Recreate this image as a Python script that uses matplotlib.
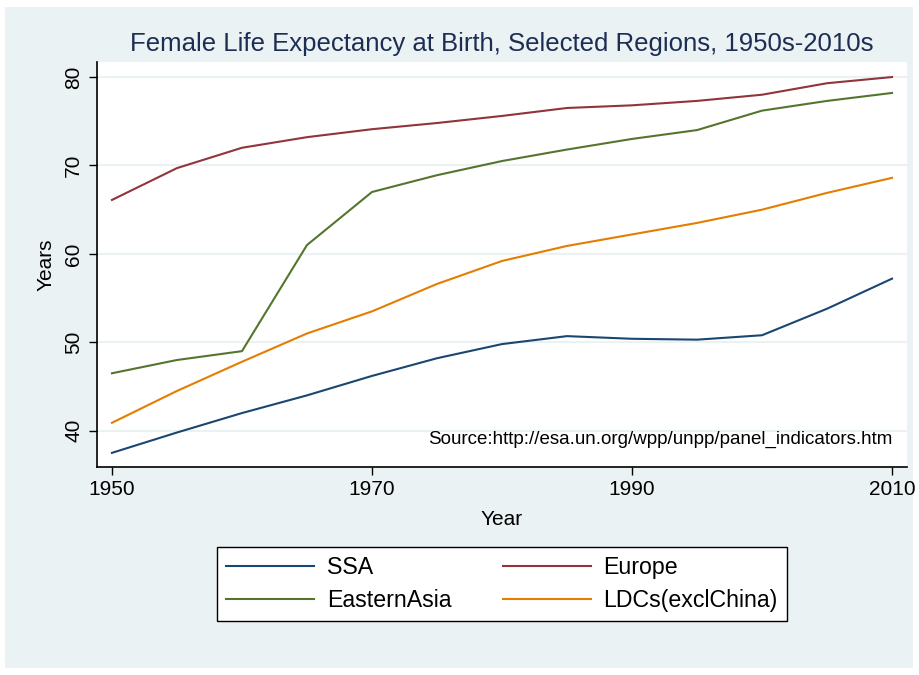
import numpy as np
import matplotlib
matplotlib.use("Agg")
import matplotlib.pyplot as plt
from matplotlib.patches import Rectangle

plt.rcParams['font.family'] = ['Liberation Sans', 'DejaVu Sans']

# data
years = [1950, 1955, 1960, 1965, 1970, 1975, 1980, 1985, 1990, 1995, 2000, 2005, 2010]
ssa = [37.5, 39.8, 42.0, 44.0, 46.2, 48.2, 49.8, 50.7, 50.4, 50.3, 50.8, 53.8, 57.2]
europe = [66.1, 69.7, 72.0, 73.2, 74.1, 74.8, 75.6, 76.5, 76.8, 77.3, 78.0, 79.3, 80.0]
east_asia = [46.5, 48.0, 49.0, 61.0, 67.0, 68.9, 70.5, 71.8, 73.0, 74.0, 76.2, 77.3, 78.2]
ldcs = [40.9, 44.5, 47.8, 51.0, 53.5, 56.6, 59.2, 60.9, 62.2, 63.5, 65.0, 66.9, 68.6]

xticks = [1950, 1970, 1990, 2010]
yticks = [40, 50, 60, 70, 80]

bg = '#eaf2f3'

fig = plt.figure(figsize=(9.2, 6.75), dpi=100)
fig.patch.set_facecolor('white')
fig.patches.append(Rectangle((5/920, 7/675), 908/920, 661/675, transform=fig.transFigure,
                             facecolor=bg, edgecolor='none', zorder=-10))

ax = fig.add_axes([97/920, 1-467/675, 810/920, 405/675])
ax.set_zorder(1)
ax.set_facecolor('white')

ax.plot(years, ssa, color='#1a476f', lw=1.5, label='SSA')
ax.plot(years, europe, color='#90353b', lw=1.5, label='Europe')
ax.plot(years, east_asia, color='#55752f', lw=1.5, label='EasternAsia')
ax.plot(years, ldcs, color='#e37e00', lw=1.5, label='LDCs(exclChina)')

ax.set_xlim(1948.85, 2011.15)
ax.set_ylim(35.9, 81.7)
ax.set_xticks(xticks)
ax.set_yticks(yticks)
ax.set_yticklabels([str(v) for v in yticks], rotation=90, va='center')
ax.tick_params(axis='both', direction='out', length=6, width=1, labelsize=15, color='black')
ax.tick_params(axis='y', pad=4)
ax.grid(axis='y', color=bg, lw=1.5)
ax.set_axisbelow(True)
for s in ['top', 'right']:
    ax.spines[s].set_visible(False)
for s in ['left', 'bottom']:
    ax.spines[s].set_linewidth(1.2)

ax.set_xlabel('Year', fontsize=15, labelpad=8)
ax.set_ylabel('Years', fontsize=15, labelpad=6)
ax.set_title('Female Life Expectancy at Birth, Selected Regions, 1950s-2010s',
             fontsize=18.5, color='#1e2d53', pad=8)

ax.text(2010, 39.0, 'Source:http://esa.un.org/wpp/unpp/panel_indicators.htm',
        ha='right', va='center', fontsize=13.5)

h, l = ax.get_legend_handles_labels()
order = [0, 2, 1, 3]
leg = fig.legend([h[i] for i in order], [l[i] for i in order], ncol=2,
                 loc='center', bbox_to_anchor=(502/920, 1-584/675),
                 fontsize=16.7, frameon=True, fancybox=False, edgecolor='black',
                 facecolor='white', framealpha=1,
                 handlelength=3.8, columnspacing=2.2, handletextpad=0.55,
                 labelspacing=0.4, borderpad=0.4)
leg.get_frame().set_linewidth(1.0)

fig.savefig('out.png', dpi=100, facecolor=fig.get_facecolor())
